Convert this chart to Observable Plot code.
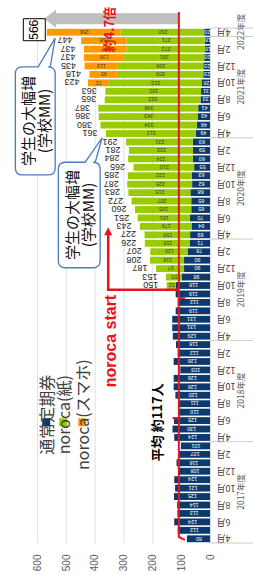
<!DOCTYPE html>
<html><head><meta charset="utf-8">
<script src="https://cdn.jsdelivr.net/npm/d3@7"></script>
<script src="https://cdn.jsdelivr.net/npm/@observablehq/plot@0.6"></script>
<style>
html,body{margin:0;padding:0;background:#fff;overflow:hidden;width:253px;height:575px;}
#wrap{position:absolute;left:0;top:0;width:575px;height:253px;transform-origin:0 0;transform:translate(0,575px) rotate(-90deg);}
</style></head><body><div id="wrap"></div>
<script>
// ---- data ----
const months = [
 "2017-04","2017-05","2017-06","2017-07","2017-08","2017-09","2017-10","2017-11","2017-12","2018-01","2018-02","2018-03",
 "2018-04","2018-05","2018-06","2018-07","2018-08","2018-09","2018-10","2018-11","2018-12","2019-01","2019-02","2019-03",
 "2019-04","2019-05","2019-06","2019-07","2019-08","2019-09","2019-10","2019-11","2019-12","2020-01","2020-02","2020-03",
 "2020-04","2020-05","2020-06","2020-07","2020-08","2020-09","2020-10","2020-11","2020-12","2021-01","2021-02","2021-03",
 "2021-04","2021-05","2021-06","2021-07","2021-08","2021-09","2021-10","2021-11","2021-12","2022-01","2022-02","2022-03",
 "2022-04"];
const fiscalYears = ["2017年度","2018年度","2019年度","2020年度","2021年度","2022年度"];
const teiki = [80,112,124,113,114,125,121,124,108,116,107,101,
 124,130,125,110,111,120,126,126,103,126,112,118,
 129,131,131,119,112,119,118,98,90,90,78,71,
 69,64,70,65,65,68,62,63,55,60,59,60,
 49,46,43,41,33,31,28,23,23,20,18,18,
 20];
const norocaPaper = [null,null,null,null,null,null,null,null,null,null,null,null,
 null,null,null,null,null,null,null,null,null,null,null,null,
 null,null,null,null,null,null,32,55,97,118,129,155,
 158,179,181,195,207,215,225,222,210,224,222,231,
 312,334,343,346,332,332,323,300,299,281,272,271,
 290];
const norocaSmart = [null,null,null,null,null,null,null,null,null,null,null,null,
 null,null,null,null,null,null,null,null,null,null,null,null,
 null,null,null,null,null,null,null,null,null,null,null,null,
 null,null,null,null,null,null,null,null,null,null,null,null,
 null,null,null,null,null,null,72,95,113,136,147,158,
 256];
const seriesNames = ["通常定期券","noroca(紙)","noroca(スマホ)"];
const seriesColors = ["#0c3a6c","#99cc00","#ff9900"];
const yTicks = [0,100,200,300,400,500,600];
const avgLabel = "平均 約117人";
const avgLevel = 108;
const startLabel = "noroca start";
const growthLabel = "約4.7倍";
const calloutLines = ["学生の大幅増","(学校MM)"];

// ---- derived ----
const series = [teiki, norocaPaper, norocaSmart];
const segs = [];
const rows = months.map((m, i) => {
  let acc = 0;
  series.forEach((arr, k) => {
    const v = arr[i];
    if (v == null) return;
    segs.push({i, k, v, y1: acc, y2: acc + v});
    acc += v;
  });
  return {i, m, total: acc, noroca: norocaPaper[i] != null};
});
const last = rows[rows.length - 1];
const monthLabel = i => (+months[i].slice(5)) + "月";
const tickIdx = rows.filter(r => r.i % 2 === 0).map(r => r.i);
const fy = m => { const y = +m.slice(0,4), mo = +m.slice(5); return mo >= 4 ? y : y - 1; };
const fyGroups = fiscalYears.map(name => {
  const idx = rows.filter(r => fy(r.m) === parseInt(name)).map(r => r.i);
  return {name, start: d3.min(idx), end: d3.max(idx), mid: d3.mean(idx)};
});

const RED = "#e8141c";
const JP = "'Noto Sans CJK JP', sans-serif";
const NUM = "'Liberation Sans', Arial, sans-serif";

function decor(index, scales, values, dims) {
  const x = scales.x, y = scales.y;
  const g = d3.create("svg:g");
  // fiscal-year separators on category axis
  const seps = fyGroups.map(f => f.start - 0.5).concat([last.i + 0.5]);
  seps.forEach(s => g.append("line").attr("x1", x(s)).attr("x2", x(s))
    .attr("y1", y(0)).attr("y2", dims.height).attr("stroke", "#bfbfbf").attr("stroke-width", 0.8));
  // gray growth arrow
  const ax = x(last.i + 1.6), aBase = y(534), aTip = y(575), aFrom = y(avgLevel);
  g.append("rect").attr("x", ax - 5.5).attr("y", aBase).attr("width", 11).attr("height", aFrom - aBase).attr("fill", "#bfbfbf");
  g.append("path").attr("d", `M${ax-9},${aBase}L${ax+9},${aBase}L${ax},${aTip}Z`).attr("fill", "#bfbfbf");
  // red average line
  g.append("path").attr("d", d3.line()([[x(-0.14), y(87)], [x(0.21), y(avgLevel)], [x(last.i + 2.4), y(avgLevel)]]))
    .attr("fill", "none").attr("stroke", RED).attr("stroke-width", 2);
  g.append("line").attr("x1", x(28.5)).attr("x2", x(28.5)).attr("y1", y(avgLevel)).attr("y2", y(87)).attr("stroke", RED).attr("stroke-width", 2);
  g.append("line").attr("x1", x(14.3)).attr("x2", x(14.3)).attr("y1", y(avgLevel)).attr("y2", y(130)).attr("stroke", RED).attr("stroke-width", 2);
  // noroca start bracket arrow
  const bx = x(29.5), by = y(353), ex = x(36.9);
  g.append("path").attr("d", d3.line()([[bx, y(avgLevel)], [bx, by], [ex - 6, by]]))
    .attr("fill", "none").attr("stroke", RED).attr("stroke-width", 2.5);
  g.append("path").attr("d", `M${ex},${by}L${ex-8},${by-4}L${ex-8},${by+4}Z`).attr("fill", RED);
  g.append("text").attr("x", x(28.9)).attr("y", y(346)).attr("text-anchor", "end").attr("dominant-baseline", "central")
    .attr("font-family", NUM).attr("font-weight", "bold").attr("font-size", 16).attr("fill", RED).text(startLabel);
  g.append("text").attr("x", x(13.8)).attr("y", y(187)).attr("text-anchor", "middle").attr("dominant-baseline", "central")
    .attr("font-family", JP).attr("font-weight", "bold").attr("font-size", 13).attr("fill", "#000").text(avgLabel);
  g.append("text").attr("x", x(60.3)).attr("y", y(351)).attr("dominant-baseline", "central")
    .attr("font-family", JP).attr("font-weight", "bold").attr("font-size", 13).attr("fill", RED).text(growthLabel);
  // callouts
  const callout = (i1, i2, vTop, vBot, t1, t2, apI, apV) => {
    const L = x(i1), R = x(i2), T = y(vTop), B = y(vBot), r = 7;
    const d = `M${L+r},${T}H${R-r}Q${R},${T} ${R},${T+r}V${y(t1)}L${x(apI)},${y(apV)}L${R},${y(t2)}V${B-r}Q${R},${B} ${R-r},${B}H${L+r}Q${L},${B} ${L},${B-r}V${T+r}Q${L},${T} ${L+r},${T}Z`;
    g.append("path").attr("d", d).attr("fill", "white").attr("stroke", "#4a7ebb").attr("stroke-width", 1.3);
    const cx = (L + R) / 2, cy = (T + B) / 2;
    calloutLines.forEach((t, j) => g.append("text").attr("x", cx).attr("y", cy + (j ? 8 : -8))
      .attr("text-anchor", "middle").attr("dominant-baseline", "central")
      .attr("font-family", JP).attr("font-size", 15).attr("fill", "#111").text(t));
  };
  callout(43.1, 55.9, 675, 537, 596, 554, 59.3, 537);
  callout(32.1, 44.6, 526, 381, 433, 398, 47.5, 374);
  // legend
  const legV = [568, 509, 443];
  seriesNames.forEach((n, k) => {
    g.append("rect").attr("x", x(13.8) - 4).attr("y", y(legV[k]) - 4).attr("width", 8).attr("height", 8).attr("fill", seriesColors[k]);
    g.append("text").attr("x", x(14.7)).attr("y", y(legV[k])).attr("dominant-baseline", "central")
      .attr("font-family", JP).attr("font-size", 16).attr("fill", "#404040").text(n);
  });
  return g.node();
}

const chart = Plot.plot({
  width: 575, height: 253,
  marginLeft: 32, marginRight: 28, marginTop: 37, marginBottom: 43,
  style: {fontFamily: NUM, background: "white", overflow: "visible"},
  x: {type: "linear", domain: [-0.5, last.i + 0.5]},
  y: {domain: [0, 600]},
  marks: [
    Plot.ruleY(yTicks.slice(1), {stroke: "#d9d9d9", strokeWidth: 0.8}),
    Plot.ruleY([0], {stroke: "#d0d0d0", strokeWidth: 0.8}),
    Plot.axisY(yTicks, {tickSize: 0, tickPadding: 12, fontSize: 10, fill: "#595959"}),
    Plot.axisX(tickIdx, {tickFormat: monthLabel, tickRotate: -90, tickSize: 0, tickPadding: 6, fontSize: 9, fill: "#404040", fontFamily: JP}),
    Plot.text(fyGroups, {x: "mid", frameAnchor: "bottom", dy: 33, text: "name", fontSize: 8.5, fill: "#595959", fontFamily: JP}),
    Plot.rectY(segs, {x1: d => d.i - 0.5, x2: d => d.i + 0.5, y1: "y1", y2: "y2", fill: d => seriesColors[d.k], insetLeft: 0.8, insetRight: 0.8}),
    Plot.text(segs, {x: "i", y: d => (d.y1 + d.y2) / 2, text: "v", rotate: -90, fontSize: 5.5, fill: d => d.k === 0 ? "#ffffff" : "#404040"}),
    Plot.text(rows.filter(r => r.noroca && r !== last), {x: "i", y: "total", text: "total", rotate: -90, textAnchor: "start", dy: -9, fontSize: 9, fill: "#262626"}),
    decor,
    Plot.dot([last], {x: "i", y: "total", dx: 2, dy: -13, symbol: "square", r: 12.4, fill: "white", stroke: "#000", strokeWidth: 1}),
    Plot.text([last], {x: "i", y: "total", dx: 2, dy: -13, text: "total", fontSize: 12, fill: "#000"})
  ]
});
document.getElementById("wrap").appendChild(chart);
</script></body></html>
